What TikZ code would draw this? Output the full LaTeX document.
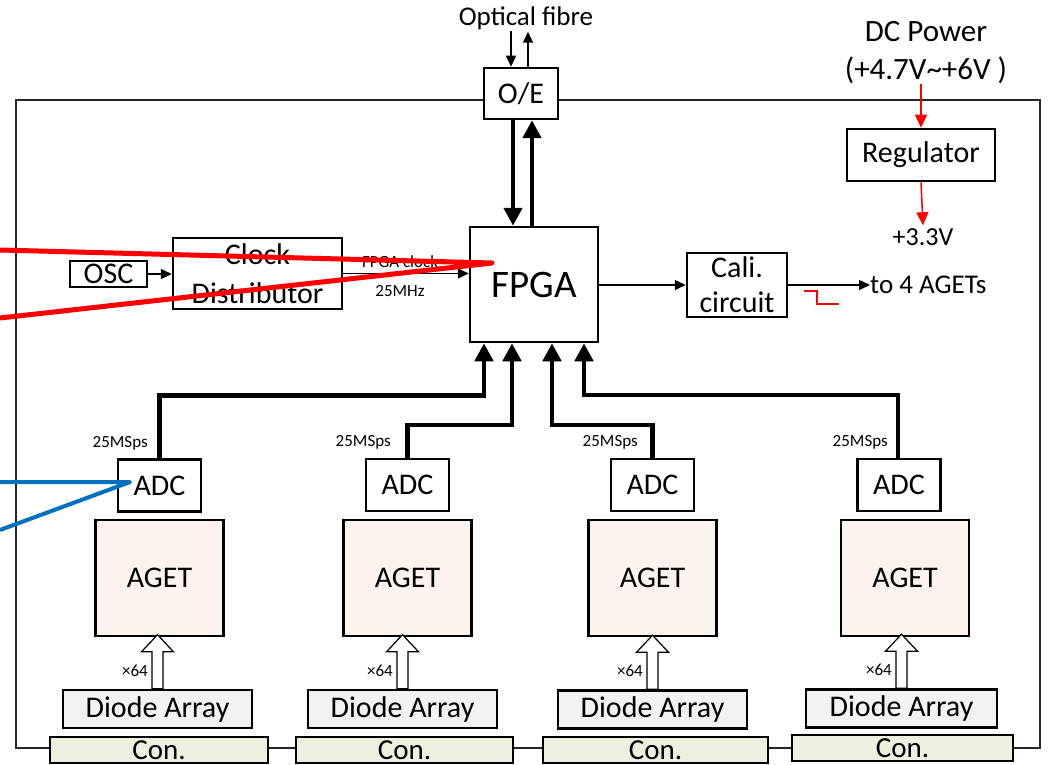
\documentclass[tikz,border=0pt]{standalone}
\usepackage{fontspec}
\setmainfont{Carlito}
\usetikzlibrary{arrows.meta,calc}
\definecolor{agetfill}{HTML}{FCF3EE}
\definecolor{diodefill}{HTML}{F2F2F2}
\definecolor{confill}{HTML}{EBF1DE}
\definecolor{framecol}{HTML}{262626}
\definecolor{annblue}{HTML}{0070C0}
\newcommand\fsz[2]{\fontsize{#1}{#2}\selectfont}
\begin{document}
\begin{tikzpicture}[x=1pt,y=-1pt,
  box/.style={draw, line width=2.5pt, inner sep=0pt, align=center, font=\fsz{30}{36}},
  adcbox/.style={box, minimum width=83pt, minimum height=52pt},
  agetbox/.style={box, fill=agetfill, minimum width=128pt, minimum height=116pt},
  diodebox/.style={box, fill=diodefill, minimum width=189pt, minimum height=38pt},
  conbox/.style={box, fill=confill, minimum height=26pt, font=\fsz{29}{34}},
  lbl/.style={inner sep=0pt, align=center},
  small/.style={lbl, font=\fsz{17}{20}},
  arr/.style={line width=1.5pt, -{Triangle[length=11pt,width=10pt]}},
  redarr/.style={red, line width=1.5pt, -{Triangle[length=13pt,width=12pt]}},
  bus/.style={line width=4.5pt, -{Triangle[length=18pt,width=18pt]}},
  hollow/.style={draw, fill=white, line width=1.2pt, line join=miter},
  frameline/.style={draw=framecol, line width=1.5pt},
  overlay/.style={line width=5pt, line join=round, line cap=butt}
]
\useasboundingbox (0,0) rectangle (1050,765);

% ---------- main blocks ----------
\node[box, minimum width=128pt, minimum height=115pt, font=\fsz{39}{44}] (fpga) at (534,284.5) {FPGA};
\node[box, minimum width=74pt, minimum height=51pt] (oe) at (521,93.5) {O/E};
\node[box, minimum width=77pt, minimum height=26pt] (osc) at (108.5,274) {OSC};
\node[box, minimum width=169pt, minimum height=71pt, font=\fsz{30}{39}] (clk) at (257.5,273.5) {Clock\\Distributor};
\node[box, minimum width=100pt, minimum height=64pt, font=\fsz{30}{35}] (cali) at (737,285) {Cali.\\circuit};
\node[box, minimum width=148pt, minimum height=52pt] (reg) at (921,155) {Regulator};

% ---------- texts ----------
\node[lbl, font=\fsz{27}{32}] (opt) at (526,18) {Optical fibre};
\node[lbl, font=\fsz{31}{38}] (dcp) at (926,53) {DC Power\\(+4.7V\textasciitilde+6V )};
\node[lbl, font=\fsz{26}{30}] (v33) at (923,237) {+3.3V};
\node[lbl, font=\fsz{27}{32}, anchor=west] (to4) at (870,285) {to 4 AGETs};
\node[small] (fclk) at (400,262) {FPGA clock};
\node[small] (f25) at (400,291) {25MHz};

% ---------- ADC / AGET / Diode / Con ----------
\node[adcbox] (adc1) at (159.5,485.5) {ADC};
\node[adcbox] (adc2) at (407.5,485) {ADC};
\node[adcbox] (adc3) at (652.5,485) {ADC};
\node[adcbox] (adc4) at (899,485) {ADC};

\node[agetbox] (aget1) at (159.5,578) {AGET};
\node[agetbox] (aget2) at (407.5,578) {AGET};
\node[agetbox] (aget3) at (652.5,578) {AGET};
\node[agetbox] (aget4) at (905,578) {AGET};

\node[diodebox] (da1) at (157.5,709) {Diode Array};
\node[diodebox] (da2) at (402.5,709) {Diode Array};
\node[diodebox] (da3) at (652.5,709.5) {Diode Array};
\node[diodebox, minimum width=191pt] (da4) at (901.5,708.5) {Diode Array};

\node[conbox, minimum width=218pt] (con1) at (159,750) {Con.};
\node[conbox, minimum width=217pt] (con2) at (404.5,750) {Con.};
\node[conbox, minimum width=225pt] (con3) at (655.5,750) {Con.};
\node[conbox, minimum width=221pt] (con4) at (902.5,748) {Con.};

% ---------- board frame ----------
\coordinate (tl) at (16,100);
\coordinate (bl) at (16,748);
\coordinate (br) at (1040,748);
\coordinate (tr) at (1040,100);
\draw[frameline] (tl -| oe.west) -- (tl) -- (bl) -- (bl -| con1.west);
\draw[frameline] (con1.east |- bl) -- (con2.west |- bl);
\draw[frameline] (con2.east |- bl) -- (con3.west |- bl);
\draw[frameline] (con3.east |- bl) -- (con4.west |- bl);
\draw[frameline] (con4.east |- br) -- (br) -- (tr) -- (tr -| oe.east);

% ---------- connectors ----------
\draw[arr] ([xshift=-10pt,yshift=36pt]oe.north) -- ([xshift=-10pt]oe.north);
\draw[arr] ([xshift=7pt]oe.north) -- ([xshift=7pt,yshift=35pt]oe.north);
\draw[bus] ([xshift=-8pt]oe.south) -- ([xshift=-21pt]fpga.north);
\draw[bus] ([xshift=-2pt]fpga.north) -- ([xshift=11pt]oe.south);

\draw[arr] (osc.east) -- (clk.west |- osc.east);
\draw[arr] (clk.east) -- (fpga.west |- clk.east);
\draw[arr] (fpga.east |- cali.west) -- (cali.west);
\draw[arr] (cali.east) -- (to4.west);
\draw[red, line width=1.5pt] (804,291) -- (817,291) -- (817,304) -- (839,304);

\draw[redarr] ([yshift=44pt]reg.north) -- (reg.north);
\draw[redarr] (reg.south) -- ([yshift=3pt]v33.north);

\coordinate (f1) at ([xshift=-50pt]fpga.south);
\coordinate (f2) at ([xshift=-22pt]fpga.south);
\coordinate (f3) at ([xshift=18pt]fpga.south);
\coordinate (f4) at ([xshift=50pt]fpga.south);
\draw[bus] (adc1.north) -- ++(0,-63) -| (f1);
\draw[bus] (adc2.north) -- ++(0,-33) -| (f2);
\draw[bus] (adc3.north) -- ++(0,-33) -| (f3);
\draw[bus] ([xshift=-1pt]adc4.north) -- ++(0,-63) -| (f4);

\node[small, anchor=east] (s1) at ([xshift=-11.5pt,yshift=15pt]adc1.north) {25MSps};
\node[small, anchor=east] (s2) at ([xshift=-16.5pt,yshift=15pt]adc2.north) {25MSps};
\node[small, anchor=east] (s3) at ([xshift=-14.5pt,yshift=15pt]adc3.north) {25MSps};
\node[small, anchor=east] (s4) at ([xshift=-11pt,yshift=15pt]adc4.north) {25MSps};

% hollow arrows Diode -> AGET
\foreach \d in {da1,da2,da3,da4}{
  \draw[hollow] ([xshift=-5.5pt]\d.north) -- ++(0,-37) -- ++(-10.5,0) -- ++(16,-17)
     -- ++(16,17) -- ++(-10.5,0) -- ++(0,37) -- cycle;
  \node[small, anchor=east] at ([xshift=-9.5pt,yshift=18pt]\d.north) {×64};
}

% ---------- annotation overlays ----------
\coordinate (rA) at (0,250);
\coordinate (rT) at (492,263);
\coordinate (rB) at (0,318);
\draw[overlay, red] (rA) -- (rT) -- (rB);
\coordinate (bA) at (0,482);
\coordinate (bT) at (130,482);
\coordinate (bB) at (0,530);
\draw[overlay, annblue, line width=4pt] (bA) -- (bT) -- (bB);
\end{tikzpicture}
\end{document}
